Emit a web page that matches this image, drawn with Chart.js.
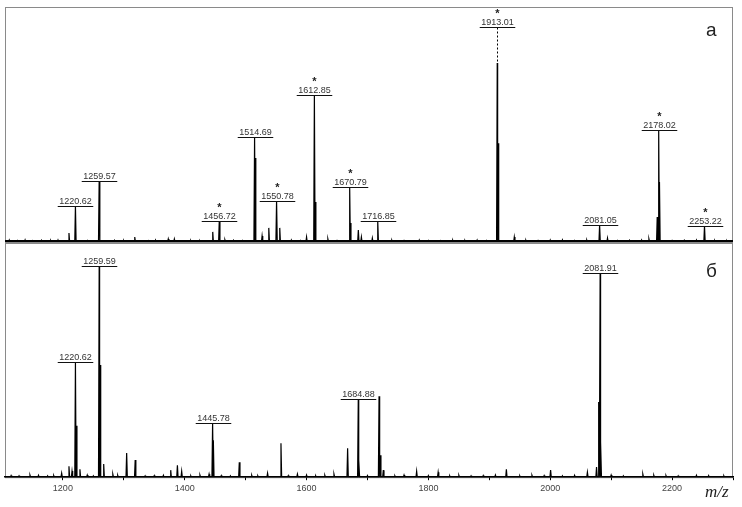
<!DOCTYPE html>
<html>
<head>
<meta charset="utf-8">
<script src="https://cdn.jsdelivr.net/npm/chart.js@4.4.1/dist/chart.umd.min.js"></script>
<style>
  body { margin: 0; background: #fff; }
  #wrap { position: relative; width: 742px; height: 507px; overflow: hidden; }
  canvas { position: absolute; left: 0; }
  #topChart { top: 0; }
  #botChart { top: 243px; }
  .tag { position: absolute; font-family: "Liberation Sans", Arial, sans-serif; font-size: 19px; color: #222; line-height: 1; }
  #mz { position: absolute; left: 705px; top: 482px; font-family: "Liberation Serif", "Times New Roman", serif; font-style: italic; font-size: 17px; color: #222; }
</style>
</head>
<body>
<div id="wrap">
  <canvas id="topChart" width="742" height="245"></canvas>
  <canvas id="botChart" width="742" height="264"></canvas>
  <div class="tag" style="left:706px; top:20px;">а</div>
  <div class="tag" style="left:706px; top:261px;">б</div>
  <div id="mz">m/z</div>
</div>
<script>
// x range of both spectra (m/z)
const mzMin = 1105, mzMax = 2300;
const tickVals   = [1200, 1300, 1400, 1500, 1600, 1700, 1800, 1900, 2000, 2100, 2200, 2300];
const tickLabels = ['1200', '', '1400', '', '1600', '', '1800', '', '2000', '', '2200', ''];

// spectrum a: peak m/z and relative intensity (% of panel height)
const mzA  = [1210, 1220.62, 1259.57, 1318, 1373, 1383, 1446, 1456.72, 1466, 1514.69, 1515.6, 1527, 1538,
              1550.78, 1556, 1600, 1612.85, 1614.2, 1635, 1670.79, 1671.8, 1685, 1690, 1708, 1716.85,
              1913.01, 1914.3, 1941, 2081.05, 2094, 2162, 2175.6, 2178.02, 2179.3, 2253.22];
const intA = [3.8, 15.3, 26.0, 2.1, 1.3, 1.3, 4.3, 8.9, 0.9, 44.7, 35.7, 2.6, 6.0,
              17.4, 6.0, 2.1, 62.6, 17.0, 1.3, 23.4, 8.1, 5.1, 2.1, 1.7, 8.9,
              76.2, 42.0, 2.1, 7.2, 1.7, 1.3, 10.6, 47.7, 25.5, 6.8];

// spectrum б
const mzB  = [1146, 1198, 1210, 1215, 1220.62, 1222, 1228, 1259.59, 1261, 1267, 1282, 1304.7, 1318.7,
              1377, 1388, 1395, 1440, 1445.78, 1447, 1489.6, 1536, 1558, 1585, 1645, 1667.4,
              1684.88, 1686, 1719, 1721, 1726, 1780.7, 1816, 1928, 2000.6, 2061, 2076,
              2079.5, 2081.91, 2083, 2152];
const intB = [0.9, 1.7, 4.7, 2.6, 49.1, 22.0, 3.4, 90.2, 47.9, 5.6, 1.3, 10.3, 7.3,
              3.0, 5.1, 2.6, 1.3, 23.1, 15.8, 6.4, 1.7, 14.5, 1.3, 1.3, 12.4,
              33.3, 7.3, 34.6, 9.4, 3.0, 2.6, 2.1, 3.4, 3.0, 2.1, 4.3,
              32.1, 87.2, 15.0, 1.3];

// baseline noise
const noiseMzA  = [1112, 1125, 1138, 1150, 1165, 1180, 1192, 1240, 1285, 1300, 1340, 1352, 1410, 1425, 1480,
                   1495, 1575, 1590, 1650, 1740, 1760, 1785, 1800, 1820, 1840, 1860, 1880, 1895, 1960, 1980,
                   2000, 2020, 2040, 2060, 2110, 2130, 2150, 2200, 2220, 2240, 2270, 2290];
const noiseIntA = [0.8, 0.6, 0.9, 0.5, 0.7, 0.6, 0.8, 0.6, 0.7, 0.6, 0.5, 0.8, 0.6, 0.5, 0.7,
                   0.6, 0.8, 0.6, 0.6, 0.7, 0.6, 0.8, 0.6, 0.5, 0.7, 0.6, 0.8, 0.6, 0.7, 0.6,
                   0.8, 0.9, 0.6, 0.8, 0.6, 0.7, 0.8, 0.6, 0.7, 0.8, 0.6, 0.5];
const noiseMzB  = [1115, 1128, 1160, 1175, 1185, 1240, 1250, 1290, 1335, 1350, 1365, 1410, 1425, 1460, 1475,
                   1510, 1520, 1570, 1600, 1615, 1630, 1700, 1745, 1760, 1800, 1835, 1850, 1870, 1890, 1910,
                   1950, 1970, 1990, 2020, 2040, 2100, 2120, 2170, 2190, 2210, 2240, 2260, 2285];
const noiseIntB = [0.7, 0.6, 0.8, 0.6, 0.7, 0.9, 0.6, 0.8, 0.6, 0.7, 0.8, 0.6, 0.9, 0.7, 0.6,
                   0.8, 0.6, 0.7, 0.9, 0.6, 0.8, 0.7, 0.6, 0.9, 0.7, 0.6, 0.8, 0.6, 0.7, 0.9,
                   0.6, 0.8, 0.7, 0.6, 0.8, 0.9, 0.6, 0.8, 0.7, 0.6, 0.8, 0.7, 0.6];

// annotated peaks, * marks
const labelsA = [1220.62, 1259.57, 1456.72, 1514.69, 1550.78, 1612.85, 1670.79, 1716.85, 1913.01, 2081.05, 2178.02, 2253.22];
const starsA  = [1456.72, 1550.78, 1612.85, 1670.79, 1913.01, 2178.02, 2253.22];
const labelsB = [1220.62, 1259.59, 1445.78, 1684.88, 2081.91];
// label of 1913.01 sits higher, joined by a dashed leader
const leaderA = { 1913.01: 91.5 };

function stick(mz, inten, nmz, nint) {
  const peaks = mz.map((m, i) => [m, inten[i]]).concat(nmz.map((m, i) => [m, nint[i]]));
  peaks.sort((a, b) => a[0] - b[0]);
  const pts = [{ x: mzMin, y: 0 }];
  peaks.forEach(([m, h]) => {
    pts.push({ x: m - 1.1, y: 0 }, { x: m, y: h }, { x: m + 1.1, y: 0 });
  });
  pts.push({ x: mzMax, y: 0 });
  return pts;
}

function labelItems(labels, stars, mz, inten, leader) {
  return labels.map(m => ({
    mz: m,
    h: inten[mz.indexOf(m)],
    level: leader[m],
    star: stars.includes(m)
  }));
}

const frame = {
  id: 'frame',
  beforeDraw(chart, args, opts) {
    const { ctx, chartArea: a } = chart;
    ctx.save();
    ctx.fillStyle = '#fff';
    ctx.fillRect(0, 0, chart.width, chart.height);
    ctx.strokeStyle = '#8a8a8a';
    ctx.lineWidth = 1;
    ctx.strokeRect(a.left + 0.5, a.top + 0.5, a.right - a.left - 1, a.bottom - a.top);
    ctx.restore();
  },
  afterDraw(chart, args, opts) {
    if (!opts.baseline) return;
    const { ctx, chartArea: a } = chart;
    ctx.save();
    ctx.strokeStyle = '#000';
    ctx.lineWidth = 2;
    ctx.beginPath();
    ctx.moveTo(a.left, a.bottom - 1);
    ctx.lineTo(a.right, a.bottom - 1);
    ctx.stroke();
    ctx.restore();
  }
};

const peakLabels = {
  id: 'peakLabels',
  afterDatasetsDraw(chart, args, opts) {
    const { ctx, scales: { x, y } } = chart;
    ctx.save();
    ctx.font = '9px "Liberation Sans", Arial, sans-serif';
    ctx.textAlign = 'center';
    opts.items.forEach(it => {
      const px = Math.round(x.getPixelForValue(it.mz)) + 0.5;
      const peakY = y.getPixelForValue(it.h);
      const py = Math.round(y.getPixelForValue(it.level !== undefined ? it.level : it.h)) + 0.5;
      const text = it.mz.toFixed(2);
      const w = ctx.measureText(text).width + 3;
      if (it.level !== undefined) {
        ctx.strokeStyle = '#000';
        ctx.lineWidth = 1;
        ctx.setLineDash([2, 2]);
        ctx.beginPath();
        ctx.moveTo(px, py);
        ctx.lineTo(px, peakY);
        ctx.stroke();
        ctx.setLineDash([]);
      }
      ctx.strokeStyle = '#111';
      ctx.lineWidth = 1;
      ctx.beginPath();
      ctx.moveTo(px - w / 2, py);
      ctx.lineTo(px + w / 2, py);
      ctx.stroke();
      ctx.fillStyle = '#333';
      ctx.textBaseline = 'alphabetic';
      ctx.fillText(text, px, py - 2.5);
      if (it.star) {
        ctx.font = 'bold 11px "Liberation Sans", Arial, sans-serif';
        ctx.fillStyle = '#222';
        ctx.fillText('*', px, py - 10.5);
        ctx.font = '9px "Liberation Sans", Arial, sans-serif';
      }
    });
    ctx.restore();
  }
};

function baseOptions() {
  return {
    responsive: false,
    animation: false,
    events: [],
    elements: { point: { radius: 0 }, line: { tension: 0 } },
    plugins: { legend: { display: false }, tooltip: { enabled: false } }
  };
}

const optsA = baseOptions();
optsA.layout = { padding: { left: 5, right: 9, top: 7, bottom: 3 } };
optsA.scales = {
  x: { type: 'linear', min: mzMin, max: mzMax, display: false },
  y: { min: 0, max: 100, display: false }
};
optsA.plugins.frame = { baseline: true };
optsA.plugins.peakLabels = { items: labelItems(labelsA, starsA, mzA, intA, leaderA) };

new Chart(document.getElementById('topChart'), {
  type: 'line',
  data: { datasets: [{ data: stick(mzA, intA, noiseMzA, noiseIntA), borderColor: '#000', borderWidth: 1.2, fill: false }] },
  options: optsA,
  plugins: [frame, peakLabels]
});

const optsB = baseOptions();
optsB.layout = { padding: { left: 5, right: 9, top: 0, bottom: 10 } };
optsB.scales = {
  x: {
    type: 'linear', min: mzMin, max: mzMax,
    afterBuildTicks: s => { s.ticks = tickVals.map(v => ({ value: v })); },
    grid: { drawOnChartArea: false, drawTicks: true, tickLength: 3, color: '#000' },
    border: { display: true, color: '#000', width: 1.5 },
    ticks: {
      autoSkip: false, maxRotation: 0, padding: 3,
      color: '#444', font: { family: '"Liberation Sans", Arial, sans-serif', size: 9 },
      callback: v => tickLabels[tickVals.indexOf(v)] || ''
    }
  },
  y: { min: 0, max: 100, display: false }
};
optsB.plugins.frame = { baseline: false };
optsB.plugins.peakLabels = { items: labelItems(labelsB, [], mzB, intB, {}) };

new Chart(document.getElementById('botChart'), {
  type: 'line',
  data: { datasets: [{ data: stick(mzB, intB, noiseMzB, noiseIntB), borderColor: '#000', borderWidth: 1.2, fill: false }] },
  options: optsB,
  plugins: [frame, peakLabels]
});
</script>
</body>
</html>
